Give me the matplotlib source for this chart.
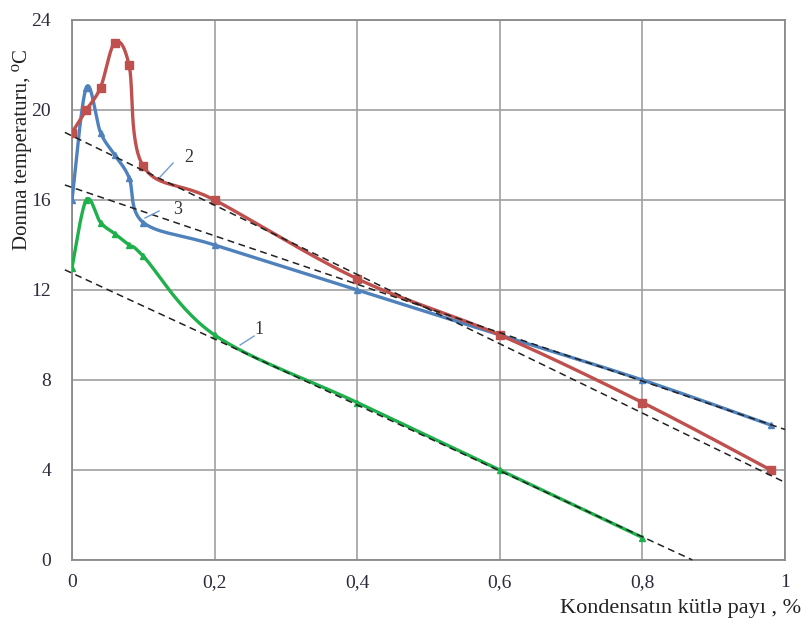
import numpy as np
import matplotlib
matplotlib.use("Agg")
import matplotlib.pyplot as plt

# ---- data ----
x_red = [0, 0.02, 0.04, 0.06, 0.08, 0.1, 0.2, 0.4, 0.6, 0.8, 0.98]
t_red = [19, 20, 21, 23, 22, 17.5, 16, 12.5, 10, 7, 4]

x_blue = [0, 0.02, 0.04, 0.06, 0.08, 0.1, 0.2, 0.4, 0.6, 0.8, 0.98]
t_blue = [16, 21, 19, 18, 17, 15, 14, 12, 10, 8, 6]

x_green = [0, 0.02, 0.04, 0.06, 0.08, 0.1, 0.2, 0.4, 0.6, 0.8]
t_green = [13, 16, 15, 14.5, 14, 13.5, 10, 7, 4, 1]

# linear trend lines (intercept, slope, x-range)
trend_green = (12.75, -14.65, -0.01, 0.87)
trend_blue = (16.56, -10.76, -0.01, 1.0)
trend_red = (18.85, -15.4, -0.01, 1.0)

x_ticks = [0, 0.2, 0.4, 0.6, 0.8, 1]
x_ticklabels = ["0", "0,2", "0,4", "0,6", "0,8", "1"]
y_ticks = [0, 4, 8, 12, 16, 20, 24]

curve_labels = ["1", "2", "3"]

RED = "#C0504D"
BLUE = "#4F81BD"
GREEN = "#1EB04A"

SERIF = ["Liberation Serif", "DejaVu Serif"]

fig = plt.figure(figsize=(8.03, 6.25), dpi=100)
ax = fig.add_axes([72 / 803, 1 - 560 / 625, (785 - 72) / 803, (560 - 20) / 625])
ax.set_xlim(0, 1)
ax.set_ylim(0, 24)

SX, SY = 712.5, 22.5  # pixel scale for smoothing


def smooth(xs, ys, n=30):
    P = np.column_stack([np.asarray(xs) * SX, np.asarray(ys) * SY])
    out = [P[0]]
    m = len(P)
    for i in range(m - 1):
        p0 = P[i - 1] if i > 0 else P[i]
        p1 = P[i]
        p2 = P[i + 1]
        p3 = P[i + 2] if i + 2 < m else P[i + 1]
        b1 = p1 + (p2 - p0) / 6.0
        b2 = p2 - (p3 - p1) / 6.0
        t = np.linspace(0, 1, n)[1:, None]
        seg = ((1 - t) ** 3) * p1 + 3 * ((1 - t) ** 2) * t * b1 + 3 * (1 - t) * t ** 2 * b2 + t ** 3 * p2
        out.extend(seg)
    out = np.array(out)
    return out[:, 0] / SX, out[:, 1] / SY


# grid
ax.set_xticks(x_ticks)
ax.set_yticks(y_ticks)
ax.grid(True, color="#a0a0a0", linewidth=1.2)
ax.set_axisbelow(True)
for s in ax.spines.values():
    s.set_color("#8a8a8a")
    s.set_linewidth(1.3)
ax.tick_params(length=0)

# trend lines
for b0, b1, xa, xb in (trend_green, trend_blue, trend_red):
    xx = np.array([xa, xb])
    ax.plot(xx, b0 + b1 * xx, color="#222222", linestyle=(0, (4.5, 3)), linewidth=1.1,
            clip_on=False, zorder=4)

# curves
for xs, ys, c, mk, ms in ((x_green, t_green, GREEN, "^", 5),
                          (x_blue, t_blue, BLUE, "^", 4.5),
                          (x_red, t_red, RED, "s", 6)):
    sx, sy = smooth(xs, ys)
    ax.plot(sx, sy, color=c, linewidth=2.4, zorder=3, solid_capstyle="round")
    ax.plot(xs, ys, linestyle="none", marker=mk, markersize=ms, color=c, zorder=3)


def px(x, y):
    return (x - 72) / 712.5, (560 - y) / 22.5


# curve number labels with leader lines
for lab, tpos, l0, l1 in ((curve_labels[0], (259, 329), (240, 345), (254, 336)),
                          (curve_labels[1], (189, 157), (160, 177), (173, 163)),
                          (curve_labels[2], (178, 209), (145, 218), (159, 211))):
    a, b = px(*l0)
    c2, d = px(*l1)
    ax.plot([a, c2], [b, d], color="#6F9BD1", linewidth=1.0, zorder=5)
    tx, ty = px(*tpos)
    ax.text(tx, ty, lab, fontsize=13, family=SERIF, color="#333333", ha="center", va="center", zorder=6)

ax.set_xticklabels(x_ticklabels, family=SERIF, fontsize=14, color="#2b2b3b")
ax.set_yticklabels([str(v) for v in y_ticks], family=SERIF, fontsize=14, color="#2b2b3b")
ax.tick_params(axis="x", pad=10)
ax.tick_params(axis="y", pad=15)

fig.text(22 / 803, 1 - 150 / 625, "Donma temperaturu, \u2070C", rotation=90,
         family=SERIF, fontsize=15, color="#222222", ha="center", va="center")
fig.text(801 / 803, 1 - 608 / 625, "Kondensatın kütlə payı , %", family=SERIF,
         fontsize=16, color="#222222", ha="right", va="center")

fig.savefig("out.png", dpi=100)
